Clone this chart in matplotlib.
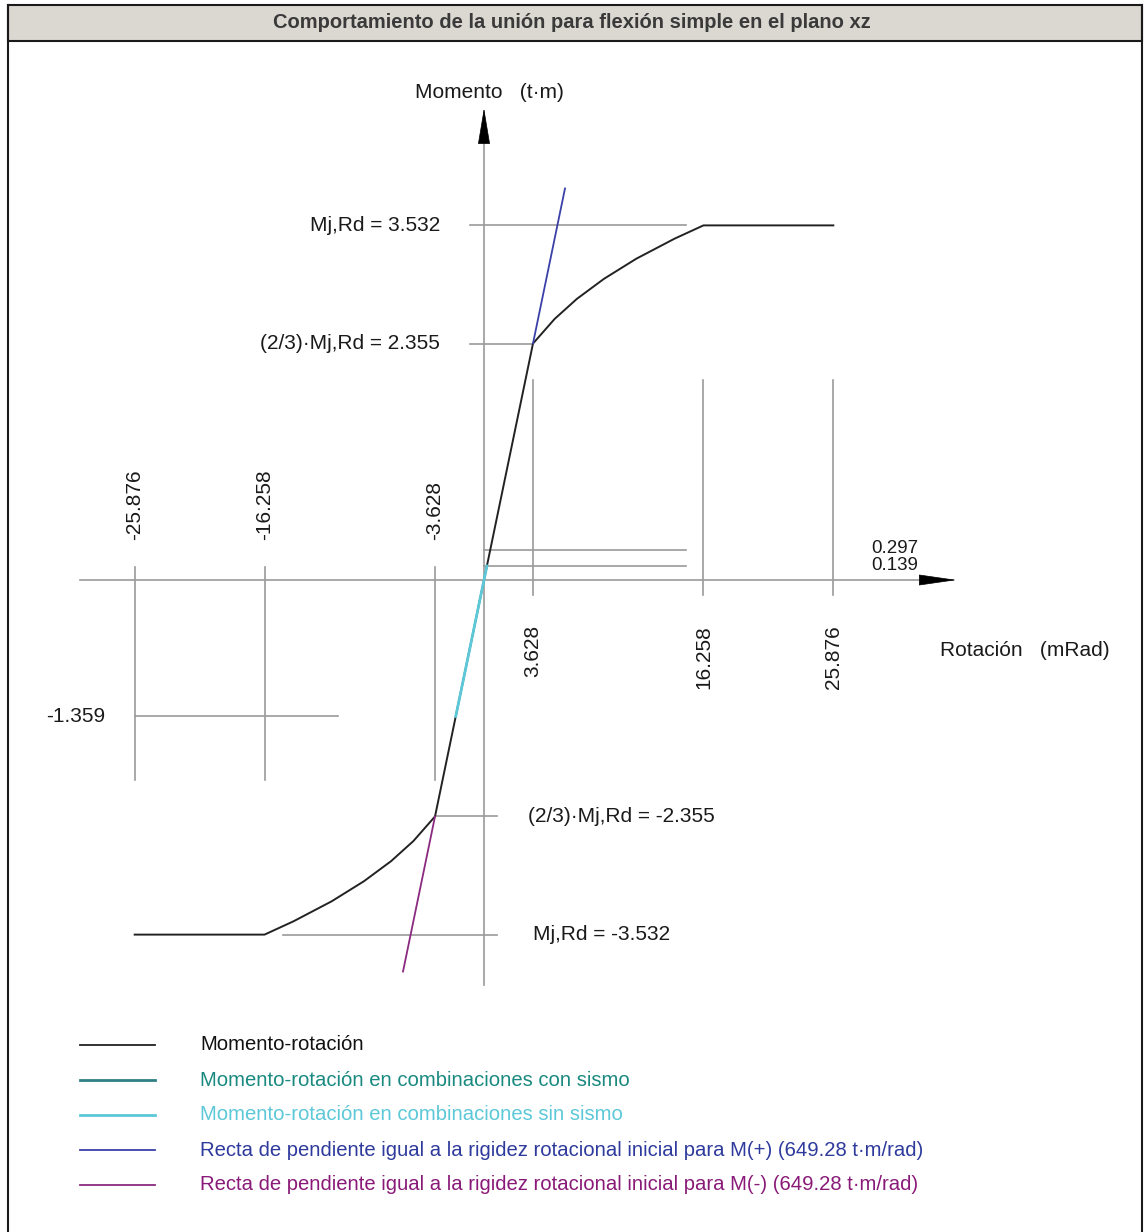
import matplotlib
matplotlib.use("Agg")
import matplotlib.pyplot as plt
from matplotlib.lines import Line2D
from matplotlib.patches import Rectangle

plt.rcParams['font.family'] = ['Liberation Sans', 'DejaVu Sans']

# ---- datos ----
titulo = 'Comportamiento de la unión para flexión simple en el plano xz'

# curva momento-rotacion (mRad, t·m)
rot_curva = [-25.876, -16.258, -14.12, -11.28, -8.89, -6.88, -5.23, -3.628,
             0.0, 3.628, 5.23, 6.88, 8.89, 11.28, 14.12, 16.258, 25.876]
mom_curva = [-3.532, -3.532, -3.4, -3.2, -3.0, -2.8, -2.6, -2.355,
             0.0, 2.355, 2.6, 2.8, 3.0, 3.2, 3.4, 3.532, 3.532]

# tramo sin sismo
rot_sin_sismo = [-2.093, 0.214]
mom_sin_sismo = [-1.359, 0.139]

# rectas de rigidez inicial
rot_rigidez_pos = [3.628, 6.0]
mom_rigidez_pos = [2.355, 3.9]
rot_rigidez_neg = [-3.628, -6.0]
mom_rigidez_neg = [-2.355, -3.9]

rot_marcas = [-25.876, -16.258, -3.628, 3.628, 16.258, 25.876]
mom_marcas = [3.532, 2.355, 0.297, 0.139, -1.359, -2.355, -3.532]

leyenda = ['Momento-rotación',
           'Momento-rotación en combinaciones con sismo',
           'Momento-rotación en combinaciones sin sismo',
           'Recta de pendiente igual a la rigidez rotacional inicial para M(+) (649.28 t·m/rad)',
           'Recta de pendiente igual a la rigidez rotacional inicial para M(-) (649.28 t·m/rad)']
col_linea = ['#222222', '#2f7f86', '#5cc8d8', '#3a40a8', '#8a2a80']
col_texto = ['#111111', '#1a8a80', '#5cc8d8', '#2e3a9c', '#8a1a78']

GRIS = '#9a9a9a'
FS = 15

W, H = 1144, 1232
fig = plt.figure(figsize=(W / 100, H / 100), dpi=100)
ax = fig.add_axes([0, 0, 1, 1])
# escala: 13.5 px/mRad, 100.4 px/(t·m), origen en (484, 580)
ax.set_xlim(-484 / 13.5, (W - 484) / 13.5)
ax.set_ylim((580 - H) / 100.4, 580 / 100.4)
ax.axis('off')

# marco y cabecera
fig.patches.append(Rectangle((8 / W, 1 - 41 / H), (1142 - 8) / W, 36 / H,
                             transform=fig.transFigure, facecolor='#dbd8d2',
                             edgecolor='#1a1a1a', lw=1.5))
for xp in (8, 1142):
    fig.add_artist(Line2D([xp / W, xp / W], [0, 1 - 5 / H], color='#1a1a1a', lw=1.5,
                          transform=fig.transFigure))
fig.text(0.5, 1 - 23 / H, titulo, ha='center', va='center', fontsize=14.5,
         fontweight='bold', color='#3a3a3a',
         family=['Liberation Sans Narrow', 'Liberation Sans'])

# ejes
ax.plot([0, 0], [-4.03, 4.35], color=GRIS, lw=1.2)
ax.plot([-29.9, 32.4], [0, 0], color=GRIS, lw=1.2)
ax.annotate('', xy=(0, 4.70), xytext=(0, 4.37),
            arrowprops=dict(arrowstyle='-|>,head_length=2.4,head_width=0.4',
                            color='black', lw=0.5, shrinkA=0, shrinkB=0))
ax.annotate('', xy=(35.0, 0), xytext=(32.4, 0),
            arrowprops=dict(arrowstyle='-|>,head_length=2.5,head_width=0.36',
                            color='black', lw=0.5, shrinkA=0, shrinkB=0))

# lineas de referencia horizontales
ax.plot([-1.04, 14.96], [3.532, 3.532], color=GRIS, lw=1.2)
ax.plot([-1.04, 3.628], [2.355, 2.355], color=GRIS, lw=1.2)
ax.plot([0, 14.96], [0.297, 0.297], color=GRIS, lw=1.2)
ax.plot([0, 14.96], [0.139, 0.139], color=GRIS, lw=1.2)
ax.plot([-25.876, -10.8], [-1.359, -1.359], color=GRIS, lw=1.2)
ax.plot([-3.628, 0.96], [-2.355, -2.355], color=GRIS, lw=1.2)
ax.plot([-14.9, 0.96], [-3.532, -3.532], color=GRIS, lw=1.2)

# lineas de referencia verticales
for r in rot_marcas:
    if r > 0:
        ax.plot([r, r], [-0.15, 1.99], color=GRIS, lw=1.2)
        ax.text(r, -0.45, f'{r:.3f}', rotation=90, ha='center', va='top',
                fontsize=FS, color='#1a1a1a')
    else:
        ax.plot([r, r], [-1.99, 0.13], color=GRIS, lw=1.2)
        ax.text(r, 0.40, f'{r:.3f}', rotation=90, ha='center', va='bottom',
                fontsize=FS, color='#1a1a1a')

# curvas
ax.plot(rot_curva, mom_curva, color=col_linea[0], lw=1.4)
ax.plot(rot_sin_sismo, mom_sin_sismo, color=col_linea[2], lw=2)
ax.plot(rot_rigidez_pos, mom_rigidez_pos, color=col_linea[3], lw=1.3)
ax.plot(rot_rigidez_neg, mom_rigidez_neg, color=col_linea[4], lw=1.3)

# textos
tc = '#1a1a1a'
ax.text(-5.1, 4.86, 'Momento   (t·m)', ha='left', va='center', fontsize=FS, color=tc)
ax.text(33.8, -0.70, 'Rotación   (mRad)', ha='left', va='center', fontsize=FS, color=tc)
ax.text(-3.26, mom_marcas[0], f'Mj,Rd = {mom_marcas[0]:.3f}', ha='right', va='center',
        fontsize=FS, color=tc)
ax.text(-3.26, mom_marcas[1], f'(2/3)·Mj,Rd = {mom_marcas[1]:.3f}', ha='right',
        va='center', fontsize=FS, color=tc)
ax.text(28.7, mom_marcas[2] + 0.02, f'{mom_marcas[2]:.3f}', ha='left', va='center',
        fontsize=13.5, color=tc)
ax.text(28.7, mom_marcas[3] + 0.01, f'{mom_marcas[3]:.3f}', ha='left', va='center',
        fontsize=13.5, color=tc)
ax.text(-28.07, mom_marcas[4], f'{mom_marcas[4]:.3f}', ha='right', va='center',
        fontsize=FS, color=tc)
ax.text(3.26, mom_marcas[5], f'(2/3)·Mj,Rd = {mom_marcas[5]:.3f}', ha='left',
        va='center', fontsize=FS, color=tc)
ax.text(3.63, mom_marcas[6], f'Mj,Rd = {mom_marcas[6]:.3f}', ha='left', va='center',
        fontsize=FS, color=tc)

# leyenda
for i, (lab, cl, ct) in enumerate(zip(leyenda, col_linea, col_texto)):
    yp = 1045 + i * 35
    fig.add_artist(Line2D([80 / W, 155 / W], [1 - yp / H, 1 - yp / H], color=cl,
                          lw=2 if i in (1, 2) else 1.3, transform=fig.transFigure))
    fig.text(200 / W, 1 - yp / H, lab, ha='left', va='center', fontsize=14.6, color=ct)

fig.savefig('out.png', dpi=100)
